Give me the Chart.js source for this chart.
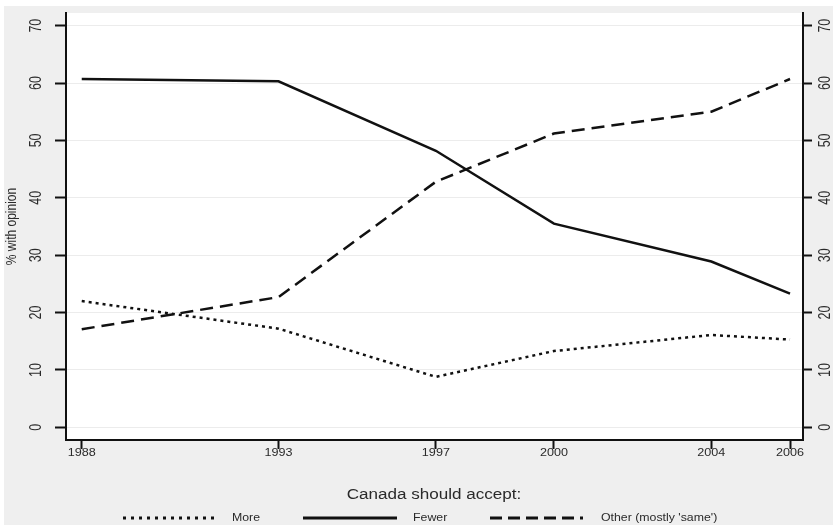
<!DOCTYPE html>
<html>
<head>
<meta charset="utf-8">
<script src="https://cdn.jsdelivr.net/npm/chart.js@4"></script>
<style>
  html, body { margin: 0; padding: 0; background: #ffffff; }
  canvas { display: block; }
</style>
</head>
<body>
<canvas id="chart" width="833" height="525"></canvas>
<script>
// survey years and share (%) of respondents per opinion
var years = [1988, 1993, 1997, 2000, 2004, 2006];
var moreValues = [22.0, 17.2, 8.8, 13.3, 16.1, 15.3];
var fewerValues = [60.7, 60.3, 48.2, 35.5, 28.9, 23.3];
var otherValues = [17.1, 22.7, 42.8, 51.2, 55.0, 60.7];
var yTicks = [0, 10, 20, 30, 40, 50, 60, 70];
var seriesLabels = ['More', 'Fewer', "Other (mostly 'same')"];
var legendTitle = 'Canada should accept:';
var yTitle = '% with opinion';

var FONT = '"Liberation Sans", Arial, Helvetica, sans-serif';
var TEXT = '#2a2a2a';

function toPoints(values) {
    return values.map(function(v, i) { return { x: years[i], y: v }; });
}

// the original export is stretched horizontally, so text gets a scaleX
function drawText(ctx, text, x, y, size, sx, rot, align) {
    ctx.save();
    ctx.translate(x, y);
    ctx.scale(sx, 1);
    if (rot) ctx.rotate(rot);
    ctx.font = size + 'px ' + FONT;
    ctx.fillStyle = TEXT;
    ctx.textAlign = align || 'center';
    ctx.textBaseline = 'middle';
    ctx.fillText(text, 0, 0);
    ctx.restore();
}

var backdrop = {
    id: 'backdrop',
    beforeDraw: function(chart) {
        var ctx = chart.ctx;
        var a = chart.chartArea;
        ctx.save();
        ctx.fillStyle = '#ffffff';
        ctx.fillRect(0, 0, chart.width, chart.height);
        ctx.fillStyle = '#efefef';
        ctx.fillRect(4, 6, chart.width - 4, chart.height - 6);
        ctx.fillStyle = '#ffffff';
        ctx.fillRect(a.left, a.top, a.right - a.left, a.bottom - a.top);
        ctx.restore();
    }
};

var labelsAndLegend = {
    id: 'labelsAndLegend',
    afterDraw: function(chart) {
        var ctx = chart.ctx;
        var a = chart.chartArea;
        var ys = chart.scales.y;
        var xs = chart.scales.x;

        yTicks.forEach(function(v) {
            var py = ys.getPixelForValue(v);
            drawText(ctx, String(v), 37, py, 12.5, 1.3, -Math.PI / 2);
            drawText(ctx, String(v), 826, py, 12.5, 1.3, -Math.PI / 2);
        });
        years.forEach(function(yr) {
            drawText(ctx, String(yr), xs.getPixelForValue(yr), 453, 10.5, 1.2, 0);
        });
        drawText(ctx, yTitle, 12, (a.top + a.bottom) / 2, 12, 1.2, -Math.PI / 2);

        // legend
        drawText(ctx, legendTitle, 434, 495, 14, 1.22, 0);
        var sampleX = [[123, 215], [303, 397], [490, 583]];
        var textX = [232, 413, 601];
        var dashes = [[3, 5], [], [12, 6]];
        chart.data.datasets.forEach(function(ds, i) {
            ctx.save();
            ctx.strokeStyle = '#111111';
            ctx.lineWidth = 3;
            ctx.setLineDash(dashes[i]);
            ctx.beginPath();
            ctx.moveTo(sampleX[i][0], 518);
            ctx.lineTo(sampleX[i][1], 518);
            ctx.stroke();
            ctx.restore();
            drawText(ctx, ds.label, textX[i], 518, 11, 1.12, 0, 'left');
        });
    }
};

function fixedTicks(values) {
    return function(scale) {
        scale.ticks = values.map(function(v) { return { value: v }; });
    };
}

new Chart(document.getElementById('chart'), {
    type: 'line',
    data: {
        datasets: [
            {
                label: seriesLabels[0],
                data: toPoints(moreValues),
                borderColor: '#111111',
                borderWidth: 2.5,
                borderDash: [3, 4],
                pointRadius: 0,
                fill: false,
                tension: 0
            },
            {
                label: seriesLabels[1],
                data: toPoints(fewerValues),
                borderColor: '#111111',
                borderWidth: 2.5,
                pointRadius: 0,
                fill: false,
                tension: 0
            },
            {
                label: seriesLabels[2],
                data: toPoints(otherValues),
                borderColor: '#111111',
                borderWidth: 2.5,
                borderDash: [13, 7],
                pointRadius: 0,
                fill: false,
                tension: 0
            }
        ]
    },
    options: {
        responsive: false,
        animation: false,
        devicePixelRatio: 1,
        layout: { padding: { top: 13, left: 0, right: 0, bottom: 0 } },
        plugins: {
            legend: { display: false },
            tooltip: { enabled: false }
        },
        scales: {
            x: {
                type: 'linear',
                min: 1987.6,
                max: 2006.33,
                afterBuildTicks: fixedTicks(years),
                afterFit: function(scale) { scale.height = 85; },
                ticks: { display: false },
                grid: {
                    drawOnChartArea: false,
                    tickLength: 9,
                    tickColor: '#111111',
                    tickWidth: 2
                },
                border: { display: true, color: '#111111', width: 2 }
            },
            y: {
                position: 'left',
                min: -2.2,
                max: 72.2,
                afterBuildTicks: fixedTicks(yTicks),
                afterFit: function(scale) { scale.width = 66; },
                ticks: { display: false },
                grid: {
                    color: '#ececec',
                    lineWidth: 1,
                    tickLength: 11,
                    tickColor: '#111111',
                    tickWidth: 2
                },
                border: { display: true, color: '#111111', width: 2 }
            },
            y2: {
                position: 'right',
                min: -2.2,
                max: 72.2,
                afterBuildTicks: fixedTicks(yTicks),
                afterFit: function(scale) { scale.width = 30; },
                ticks: { display: false },
                grid: {
                    drawOnChartArea: false,
                    tickLength: 9,
                    tickColor: '#111111',
                    tickWidth: 2
                },
                border: { display: true, color: '#111111', width: 2 }
            }
        }
    },
    plugins: [backdrop, labelsAndLegend]
});
</script>
</body>
</html>
